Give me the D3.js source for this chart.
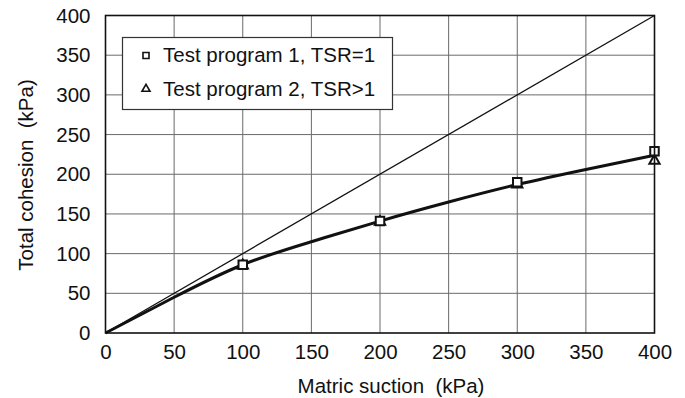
<!DOCTYPE html>
<html>
<head>
<meta charset="utf-8">
<script src="https://cdn.jsdelivr.net/npm/d3@7"></script>
<style>
  html, body { margin: 0; padding: 0; background: #fff; }
  svg text { font-family: "Liberation Sans", Arial, sans-serif; fill: #111; white-space: pre; }
</style>
</head>
<body>
<svg id="chart" width="685" height="398"></svg>
<script>
// Matric suction (kPa) vs total cohesion (kPa)
const suctionTicks = [0, 50, 100, 150, 200, 250, 300, 350, 400];
const cohesionTicks = [0, 50, 100, 150, 200, 250, 300, 350, 400];

// Test program 1, TSR = 1 (squares)
const program1Suction = [100, 200, 300, 400];
const program1Cohesion = [86, 141, 190, 229];

// Test program 2, TSR > 1 (triangles)
const program2Suction = [100, 200, 300, 400];
const program2Cohesion = [85, 140, 187, 217];

// Fitted trend through both programs
const fitSuction = [0, 50, 100, 150, 200, 250, 300, 350, 400];
const fitCohesion = [0, 45, 86, 115, 141, 165, 187, 206, 224];

// Reference 1:1 line (cohesion equals suction)
const unitSuction = [0, 400];
const unitCohesion = [0, 400];

const legendLabels = ["Test program 1, TSR=1", "Test program 2, TSR>1"];

const FONT = "20.5px";
const svg = d3.select("#chart");
const plotLeft = 105.5, plotRight = 654.5, plotTop = 15.5, plotBottom = 333;

const x = d3.scaleLinear().domain([0, 400]).range([plotLeft, plotRight]);
const y = d3.scaleLinear().domain([0, 400]).range([plotBottom, plotTop]);

// grid
const grid = svg.append("g");
grid.selectAll("line.vx").data(suctionTicks.slice(1, -1)).enter().append("line")
  .attr("x1", d => x(d)).attr("x2", d => x(d)).attr("y1", plotTop).attr("y2", plotBottom)
  .attr("stroke", "#6a6a6a").attr("stroke-width", 1);
grid.selectAll("line.hy").data(cohesionTicks.slice(1, -1)).enter().append("line")
  .attr("y1", d => y(d)).attr("y2", d => y(d)).attr("x1", plotLeft).attr("x2", plotRight)
  .attr("stroke", "#6a6a6a").attr("stroke-width", 1);

// axes (labels only; frame drawn separately)
const xAxis = d3.axisBottom(x).tickValues(suctionTicks).tickSize(0).tickPadding(11);
const gx = svg.append("g").attr("transform", `translate(0,${plotBottom})`).call(xAxis);
gx.select(".domain").remove();
gx.selectAll("text").style("font-size", FONT).attr("fill", "#111");

const yAxis = d3.axisLeft(y).tickValues(cohesionTicks).tickSize(0).tickPadding(15);
const gy = svg.append("g").attr("transform", `translate(${plotLeft},0)`).call(yAxis);
gy.select(".domain").remove();
gy.selectAll("text").style("font-size", FONT).attr("fill", "#111");

// 1:1 line
const line = d3.line().x(d => x(d[0])).y(d => y(d[1]));
svg.append("path")
  .datum(d3.zip(unitSuction, unitCohesion))
  .attr("d", line).attr("fill", "none").attr("stroke", "#111").attr("stroke-width", 1.3);

// fitted curve
const curve = d3.line().x(d => x(d[0])).y(d => y(d[1])).curve(d3.curveNatural);
svg.append("path")
  .datum(d3.zip(fitSuction, fitCohesion))
  .attr("d", curve).attr("fill", "none").attr("stroke", "#111").attr("stroke-width", 3);

// markers
const sq = d3.symbol().type(d3.symbolSquare).size(72);
const tri = d3.symbol().type(d3.symbolTriangle).size(46);
svg.append("g").selectAll("path").data(d3.zip(program2Suction, program2Cohesion)).enter()
  .append("path").attr("d", tri)
  .attr("transform", d => `translate(${x(d[0])},${y(d[1])})`)
  .attr("fill", "#fff").attr("stroke", "#111").attr("stroke-width", 2);
svg.append("g").selectAll("path").data(d3.zip(program1Suction, program1Cohesion)).enter()
  .append("path").attr("d", sq)
  .attr("transform", d => `translate(${x(d[0])},${y(d[1])})`)
  .attr("fill", "#fff").attr("stroke", "#111").attr("stroke-width", 2);

// frame
svg.append("rect").attr("x", plotLeft).attr("y", plotTop)
  .attr("width", plotRight - plotLeft).attr("height", plotBottom - plotTop)
  .attr("fill", "none").attr("stroke", "#111").attr("stroke-width", 1.6);

// legend
const lg = svg.append("g");
lg.append("rect").attr("x", 122.5).attr("y", 37.5).attr("width", 270).attr("height", 72)
  .attr("fill", "#fff").attr("stroke", "#333").attr("stroke-width", 1.2);
lg.append("path").attr("d", d3.symbol().type(d3.symbolSquare).size(36))
  .attr("transform", "translate(146,55.5)").attr("fill", "#fff").attr("stroke", "#111").attr("stroke-width", 1.6);
lg.append("path").attr("d", d3.symbol().type(d3.symbolTriangle).size(28))
  .attr("transform", "translate(146,89)").attr("fill", "#fff").attr("stroke", "#111").attr("stroke-width", 1.6);
lg.selectAll("text").data(legendLabels).enter().append("text")
  .attr("x", 163).attr("y", (d, i) => 62 + i * 33.5)
  .style("font-size", FONT).text(d => d);

// axis titles
svg.append("text").attr("x", 391).attr("y", 393).attr("text-anchor", "middle")
  .style("font-size", FONT).text("Matric suction  (kPa)");
svg.append("text").attr("transform", "translate(33,175) rotate(-90)").attr("text-anchor", "middle")
  .style("font-size", FONT).text("Total cohesion  (kPa)");
</script>
</body>
</html>
